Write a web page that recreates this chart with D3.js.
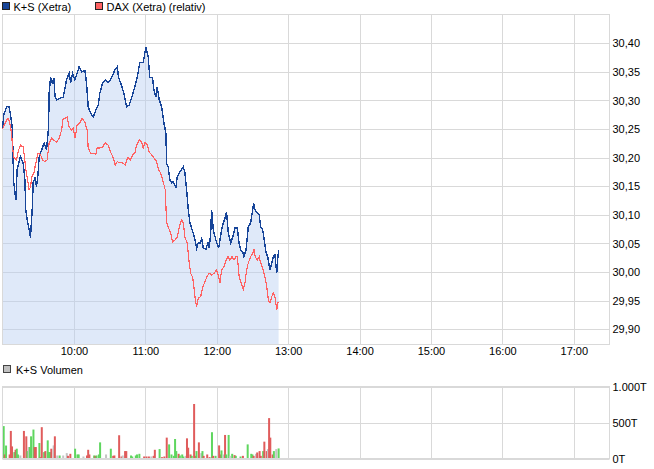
<!DOCTYPE html>
<html>
<head>
<meta charset="utf-8">
<script src="https://cdn.jsdelivr.net/npm/d3@7"></script>
<style>
  body { margin: 0; background: #fff; }
  text { font-family: "Liberation Sans", Arial, sans-serif; font-size: 11px; fill: #000; }
</style>
</head>
<body>
<div id="chart"></div>
<script>
// minutes after 09:00
var ksTime = [0,1.1,3.4,5.5,6.1,7.6,8.4,8.9,9.5,11.2,
  12.3,14.0,15.1,17.3,18.7,19.6,20.7,22.4,23.5,24.4,
  25.2,25.7,27.4,28.6,29.9,30.8,32.8,35.0,37.0,38.7,
  39.2,40.4,41.7,43.1,44.2,45.4,48.2,51.0,53.8,56.0,
  57.2,58.9,60.8,62.7,64.4,66.4,69.2,70.6,72.0,74.0,
  76.2,78.4,80.4,81.8,84.1,86.9,88.8,90.8,94.4,96.4,
  97.5,99.2,102.0,104.3,106.4,108.7,111.2,113.2,115.4,118.2,
  120.5,122.4,123.8,126.1,127.2,128.9,130.0,131.7,133.7,135.6,
  137.3,137.9,139.2,140.7,142.1,143.4,145.7,146.8,149.1,151.9,
  153.3,154.7,156.1,157.5,158.9,160.3,161.7,163.1,164.5,166.5,
  167.3,168.7,170.9,172.6,173.7,174.9,175.7,177.1,179.3,181.6,
  182.7,184.1,185.5,187.2,188.3,189.7,191.7,193.4,195.3,197.3,
  198.7,200.1,201.8,202.9,204.6,206.5,208.5,210.2,211.0,212.1,
  214.1,215.7,216.9,218.6,219.9,221.4,222.8,224.7,226.2,227.5,
  228.9,230.4,231.2,232.0];
var ksPrice = [30.250,30.275,30.289,30.289,30.283,30.262,30.248,30.196,30.156,30.126,
  30.179,30.193,30.202,30.191,30.166,30.109,30.091,30.074,30.060,30.091,
  30.117,30.156,30.166,30.149,30.173,30.201,30.213,30.226,30.213,30.254,
  30.313,30.341,30.331,30.339,30.306,30.301,30.304,30.306,30.336,30.348,
  30.331,30.348,30.336,30.348,30.359,30.350,30.353,30.331,30.289,30.278,
  30.271,30.283,30.292,30.313,30.331,30.336,30.331,30.336,30.353,30.359,
  30.341,30.331,30.313,30.289,30.292,30.306,30.324,30.341,30.366,30.366,
  30.394,30.376,30.341,30.339,30.318,30.306,30.324,30.301,30.289,30.261,
  30.243,30.190,30.184,30.161,30.156,30.158,30.149,30.166,30.175,30.184,
  30.173,30.144,30.109,30.086,30.077,30.068,30.056,30.042,30.051,30.051,
  30.061,30.042,30.040,30.051,30.042,30.068,30.109,30.074,30.056,30.042,
  30.056,30.074,30.086,30.096,30.105,30.068,30.051,30.061,30.077,30.077,
  30.051,30.039,30.035,30.027,30.039,30.079,30.086,30.109,30.121,30.109,
  30.103,30.100,30.079,30.074,30.056,30.035,30.027,30.004,30.016,30.027,
  30.030,29.998,30.021,30.039];

var daxTime = [0,3.4,4.7,6.1,7.6,8.4,9.5,11.8,13.5,15.1,
  17.3,18.5,19.6,20.7,22.4,23.5,24.6,26.3,28.0,29.9,
  32.0,33.6,35.6,37.5,39.2,41.2,43.1,45.4,47.6,49.6,
  51.0,52.6,54.3,56.0,58.0,59.4,61.0,62.7,65.0,66.9,
  69.2,71.1,72.0,74.0,76.2,78.4,79.5,81.8,84.1,86.3,
  88.8,90.8,93.0,94.7,96.4,98.6,100.9,103.1,105.4,107.6,
  109.3,111.2,112.7,114.9,116.9,118.2,119.9,121.6,123.3,125.3,
  127.2,129.5,131.2,132.8,135.0,136.7,137.9,139.2,141.3,142.9,
  144.9,146.8,148.5,150.5,151.9,153.3,155.2,156.9,158.1,159.8,
  160.8,161.7,163.1,164.5,166.5,168.2,170.1,171.5,173.7,175.7,
  177.7,179.9,181.6,182.7,184.1,186.1,187.8,189.4,191.1,192.8,
  194.5,196.2,197.3,198.9,200.6,202.3,203.7,205.1,206.5,208.5,
  210.2,211.3,212.4,214.1,215.7,216.9,218.6,220.6,222.0,223.4,
  224.7,226.2,227.5,228.9,230.4,231.2,232.0];
var daxRel = [30.250,30.266,30.269,30.261,30.243,30.219,30.200,30.196,30.213,30.222,
  30.219,30.201,30.179,30.166,30.144,30.149,30.166,30.173,30.191,30.208,
  30.205,30.196,30.193,30.196,30.226,30.234,30.231,30.227,30.234,30.248,
  30.269,30.269,30.271,30.254,30.248,30.252,30.234,30.257,30.261,30.269,
  30.262,30.248,30.217,30.208,30.208,30.206,30.217,30.217,30.219,30.226,
  30.222,30.210,30.200,30.187,30.193,30.191,30.191,30.187,30.201,30.196,
  30.205,30.208,30.222,30.231,30.227,30.217,30.227,30.222,30.210,30.205,
  30.200,30.193,30.179,30.173,30.158,30.144,30.086,30.079,30.068,30.053,
  30.056,30.061,30.079,30.091,30.086,30.061,30.051,30.016,29.998,29.991,
  29.974,29.957,29.939,29.955,29.957,29.974,29.983,29.991,29.998,29.995,
  29.998,30.004,29.991,29.981,30.004,30.009,30.021,30.027,30.021,30.027,
  30.021,30.027,30.027,29.991,29.981,29.969,29.981,30.004,30.016,30.027,
  30.033,30.039,30.027,30.021,30.027,30.016,30.007,29.991,29.974,29.951,
  29.946,29.957,29.964,29.957,29.934,29.946,29.948];

var volTime = [1,2,3,6,7,8,10,11,12,13,
  15,18,20,21,22,23,24,26,27,28,
  31,32,33,35,36,38,39,40,41,43,
  44,46,48,51,54,55,57,61,63,64,
  68,71,72,73,77,78,79,81,82,87,
  91,93,94,98,100,101,103,104,108,109,
  112,113,115,119,121,123,125,127,128,132,
  134,136,138,140,142,144,145,146,148,149,
  151,152,154,155,156,158,159,161,162,163,
  165,167,168,169,172,174,176,177,179,182,
  183,184,186,187,188,190,191,193,195,196,
  200,202,206,209,210,211,213,214,216,217,
  219,220,222,223,224,225,227,228,230,232];
// thousand shares
var volValue = [450,56,180,56,383,168,89,121,136,56,
  42,383,308,103,159,159,308,402,159,159,
  215,19,435,89,103,252,89,89,136,182,
  308,42,42,42,75,37,65,136,56,56,
  28,42,121,56,42,37,42,56,224,56,
  136,37,42,323,28,42,103,103,42,28,
  42,56,65,28,28,28,28,37,121,131,
  19,28,290,196,56,37,271,103,65,42,
  56,28,37,280,150,56,37,757,37,103,
  224,75,103,37,56,19,365,37,37,182,
  56,112,56,327,56,327,37,65,47,37,
  28,37,196,65,56,37,65,84,103,37,
  103,234,103,131,561,290,56,103,131,140];
// g = up, r = down, n = unchanged
var volDir = ("grgrrrgrgg" + "nrrgngggrr" + "grrgrgggrn" + "rngnnrrggg" + "nrrrgrgggn" +
  "grrrrnrrgg" + "gggrrrnrrg" + "rrrgggggrg" + "ggnrrrgrrg" + "rngrrrgrgr" +
  "rgnrggngrg" + "grgggrnrrr" + "grrnrrrgng").split("");

var hourTicks = [60,120,180,240,300,360,420,480];
var hourLabels = ["10:00","11:00","12:00","13:00","14:00","15:00","16:00","17:00"];
var priceTicks = [29.90,29.95,30.00,30.05,30.10,30.15,30.20,30.25,30.30,30.35,30.40];
var volTicks = [0,500,1000];

var width = 654, height = 469;
var left = 2.5, right = 609.5;
var top1 = 14.5, bot1 = 344.5;
var top2 = 386.5, bot2 = 458.5;
var gridColor = "#d9d9d9";

var de = d3.formatLocale({decimal: ",", thousands: ".", grouping: [3], currency: ["", "€"]});
var fmtPrice = de.format(".2f");
var fmtVol = de.format(",d");

var svg = d3.select("#chart").append("svg")
  .attr("width", width)
  .attr("height", height);

var x = d3.scaleLinear().domain([0, 510]).range([left, right]);
var y = d3.scaleLinear().domain([29.90, 30.40]).range([329.3, 43.3]);
var yv = d3.scaleLinear().domain([0, 1000]).range([bot2, top2]);

// ---- price panel
svg.append("clipPath").attr("id", "clip1")
  .append("rect").attr("x", left).attr("y", top1).attr("width", right - left).attr("height", bot1 - top1);

var ks = d3.range(ksTime.length).map(function(i){ return {t: ksTime[i], v: ksPrice[i]}; });
var dax = d3.range(daxTime.length).map(function(i){ return {t: daxTime[i], v: daxRel[i]}; });

function grid(g, tickArr, isX, y0, y1) {
  g.selectAll("line").data(tickArr).enter().append("line")
    .attr("x1", function(d){ return isX ? Math.round(x(d)) + 0.5 : left; })
    .attr("x2", function(d){ return isX ? Math.round(x(d)) + 0.5 : right; })
    .attr("y1", function(d){ return isX ? y0 : Math.round(y(d)) + 0.5; })
    .attr("y2", function(d){ return isX ? y1 : Math.round(y(d)) + 0.5; })
    .attr("stroke", gridColor).attr("stroke-width", 1);
}

grid(svg.append("g"), hourTicks, true, top1, bot1);
grid(svg.append("g"), priceTicks, false);

svg.append("path")
  .datum(ks)
  .attr("clip-path", "url(#clip1)")
  .attr("fill", "#b9cff2")
  .attr("fill-opacity", 0.45)
  .attr("d", d3.area().x(function(d){ return x(d.t); }).y0(bot1).y1(function(d){ return y(d.v); }));

svg.append("rect")
  .attr("x", left).attr("y", top1).attr("width", right - left).attr("height", bot1 - top1)
  .attr("fill", "none").attr("stroke", gridColor);

var line = d3.line().x(function(d){ return x(d.t); }).y(function(d){ return y(d.v); });

svg.append("path").datum(ks)
  .attr("fill", "none").attr("stroke", "#174599").attr("stroke-width", 1.4)
  .attr("shape-rendering", "crispEdges")
  .attr("d", line);
svg.append("path").datum(dax)
  .attr("fill", "none").attr("stroke", "#ff6262").attr("stroke-width", 1.2)
  .attr("shape-rendering", "crispEdges")
  .attr("d", line);

// axes
var xAxis = svg.append("g")
  .attr("transform", "translate(0," + bot1 + ")")
  .call(d3.axisBottom(x).tickValues(hourTicks).tickSize(0).tickPadding(3)
    .tickFormat(function(d, i){ return hourLabels[i]; }));
xAxis.select(".domain").remove();

var yAxis = svg.append("g")
  .attr("transform", "translate(" + right + ",0)")
  .call(d3.axisRight(y).tickValues(priceTicks).tickSize(0).tickPadding(3).tickFormat(fmtPrice));
yAxis.select(".domain").remove();

svg.selectAll(".tick text").attr("fill", "#000").style("font-family", '"Liberation Sans", Arial, sans-serif').style("font-size", "11px");

// legend
var legend = [
  {label: "K+S (Xetra)", color: "#174599", x: 2.5},
  {label: "DAX (Xetra) (relativ)", color: "#ff6262", x: 95.5}
];
legend.forEach(function(l){
  svg.append("rect").attr("x", l.x).attr("y", 2.5).attr("width", 7).attr("height", 7)
    .attr("fill", l.color).attr("stroke", "#222");
  svg.append("text").attr("x", l.x + 11).attr("y", 10.5).text(l.label);
});

// ---- volume panel
svg.append("rect").attr("x", 3.5).attr("y", 365.5).attr("width", 7).attr("height", 7)
  .attr("fill", "#c0c0c0").attr("stroke", "#444");
svg.append("text").attr("x", 16).attr("y", 373.5).text("K+S Volumen");

grid(svg.append("g"), hourTicks, true, top2, bot2);
svg.append("g").selectAll("line").data(volTicks).enter().append("line")
  .attr("x1", left).attr("x2", right)
  .attr("y1", function(d){ return Math.round(yv(d)) + 0.5; })
  .attr("y2", function(d){ return Math.round(yv(d)) + 0.5; })
  .attr("stroke", gridColor);

var dirColor = {g: "#5fd65f", r: "#e05c5c", n: "#c4c4c4"};
svg.append("g").selectAll("rect").data(volTime).enter().append("rect")
  .attr("x", function(d){ return x(d) - 1; })
  .attr("width", 2)
  .attr("y", function(d, i){ return yv(volValue[i]); })
  .attr("height", function(d, i){ return yv(0) - yv(volValue[i]); })
  .attr("fill", function(d, i){ return dirColor[volDir[i]]; });

svg.append("rect")
  .attr("x", left).attr("y", top2).attr("width", right - left).attr("height", bot2 - top2)
  .attr("fill", "none").attr("stroke", gridColor);

var vAxis = svg.append("g")
  .attr("transform", "translate(" + right + ",0)")
  .call(d3.axisRight(yv).tickValues(volTicks).tickSize(0).tickPadding(3)
    .tickFormat(function(d){ return fmtVol(d) + "T"; }));
vAxis.select(".domain").remove();
vAxis.selectAll("text").attr("fill", "#000").style("font-family", '"Liberation Sans", Arial, sans-serif').style("font-size", "11px");
</script>
</body>
</html>
